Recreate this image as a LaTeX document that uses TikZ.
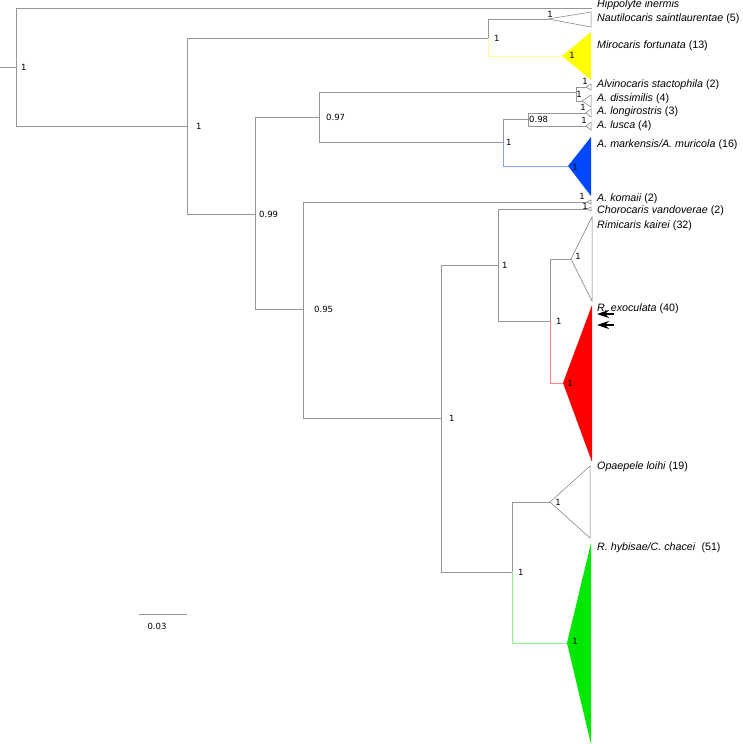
\documentclass[tikz,border=0pt]{standalone}
\usepackage{fontspec}
\usetikzlibrary{arrows.meta,positioning}
\newfontfamily\tipfont{Liberation Sans}
\newfontfamily\suppfont{DejaVu Sans}
\definecolor{branchgray}{RGB}{150,150,150}
\definecolor{cladegray}{RGB}{120,120,120}
\definecolor{miroyellow}{RGB}{255,255,0}
\definecolor{markblue}{RGB}{0,72,255}
\definecolor{exored}{RGB}{255,0,0}
\definecolor{hybgreen}{RGB}{0,232,0}

\begin{document}
\begin{tikzpicture}[
      x=1pt,y=-1pt,
      branch/.style={draw=branchgray,line width=0.8pt},
      yellowbr/.style={draw=miroyellow!40,line width=0.8pt},
      bluebr/.style={draw=markblue!50,line width=0.8pt},
      redbr/.style={draw=exored!50,line width=0.8pt},
      greenbr/.style={draw=hybgreen!45,line width=0.8pt},
      clade/.style={draw=cladegray,line width=0.5pt,fill=white},
      taxon/.style={anchor=base west,inner sep=0pt,
                    font={\tipfont\fontsize{10.7}{12}\selectfont}},
      supp/.style={inner sep=0pt,font={\suppfont\fontsize{8.5}{10}\selectfont}},
      pointer/.style={-{Stealth[length=12pt,width=8pt,inset=4pt]},line width=1.8pt}
    ]
      \fill[white] (0,0) rectangle (742,744);
      \useasboundingbox (0,0) rectangle (742,744);

      \coordinate (stem) at (0,67);
      \coordinate (root) at (16,67);
      \coordinate (n1) at (187,126);
      \coordinate (n2) at (488,38);
      \coordinate (n3) at (255,214);
      \coordinate (n4) at (319,117);
      \coordinate (n5) at (576,92);
      \coordinate (n6) at (503,142);
      \coordinate (n7) at (528,119);
      \coordinate (n8) at (303,309);
      \coordinate (n9) at (441,418);
      \coordinate (n10) at (498,265);
      \coordinate (n11) at (550,321);
      \coordinate (n12) at (512,572);

      \coordinate (hipE) at (592,8);
      \coordinate (nautA) at (548,19);
      \coordinate (miroA) at (562,56);
      \coordinate (alviA) at (586,87);
      \coordinate (dissA) at (582,101);
      \coordinate (longA) at (586,113);
      \coordinate (luscA) at (586,126);
      \coordinate (markA) at (568,166);
      \coordinate (komA) at (587,202);
      \coordinate (choA) at (587,209);
      \coordinate (kaiA) at (571,259);
      \coordinate (exoA) at (563,383);
      \coordinate (opaA) at (550,502);
      \coordinate (hybA) at (567,643);

      \draw[branch] (stem) -- (root);
      \draw[branch] (root) |- (hipE);
      \draw[branch] (root) |- (n1);
      \draw[branch] (n1) |- (n2);
      \draw[branch] (n2) |- (nautA);
      \draw[yellowbr] (n2) |- (miroA);
      \draw[branch] (n1) |- (n3);
      \draw[branch] (n3) |- (n4);
      \draw[branch] (n4) |- (n5);
      \draw[branch] (n5) |- (alviA);
      \draw[branch] (n5) |- (dissA);
      \draw[branch] (n4) |- (n6);
      \draw[branch] (n6) |- (n7);
      \draw[branch] (n7) |- (longA);
      \draw[branch] (n7) |- (luscA);
      \draw[bluebr] (n6) |- (markA);
      \draw[branch] (n3) |- (n8);
      \draw[branch] (n8) |- (komA);
      \draw[branch] (n8) |- (n9);
      \draw[branch] (n9) |- (n10);
      \draw[branch] (n10) |- (choA);
      \draw[branch] (n10) |- (n11);
      \draw[branch] (n11) |- (kaiA);
      \draw[redbr] (n11) |- (exoA);
      \draw[branch] (n9) |- (n12);
      \draw[branch] (n12) |- (opaA);
      \draw[greenbr] (n12) |- (hybA);

      \draw[clade] (nautA) -- (591,12) -- (591,27) -- cycle;
      \fill[miroyellow] (miroA) -- (591,32) -- (591,80) -- cycle;
      \draw[clade] (alviA) -- (591,84) -- (591,90) -- cycle;
      \draw[clade] (dissA) -- (591,95) -- (591,107) -- cycle;
      \draw[clade] (longA) -- (591,109) -- (591,117) -- cycle;
      \draw[clade] (luscA) -- (591,122) -- (591,130) -- cycle;
      \fill[markblue] (markA) -- (591,137) -- (591,196) -- cycle;
      \draw[clade] (komA) -- (591,200) -- (591,204) -- cycle;
      \draw[clade] (choA) -- (591,207) -- (591,211) -- cycle;
      \draw[clade] (kaiA) -- (592,217) -- (592,301) -- cycle;
      \fill[exored] (exoA) -- (592,305) -- (592,462) -- cycle;
      \draw[clade] (opaA) -- (590,466) -- (590,538) -- cycle;
      \fill[hybgreen] (hybA) -- (591,543) -- (591,744) -- cycle;

      \node[supp,right=5pt of root] (sroot) {1};
      \node[supp,right=9pt of n1] (sn1) {1};
      \node[supp,right=6pt of n2] (sn2) {1};
      \node[supp,right=4pt of n3] (sn3) {0.99};
      \node[supp,right=7pt of n4] (sn4) {0.97};
      \node[supp,right=3pt of n6] (sn6) {1};
      \node[supp,right=1pt of n7] (sn7) {0.98};
      \node[supp,right=11pt of n8] (sn8) {0.95};
      \node[supp,right=8pt of n9] (sn9) {1};
      \node[supp,right=4pt of n10] (sn10) {1};
      \node[supp,right=6pt of n11] (sn11) {1};
      \node[supp,right=6pt of n12] (sn12) {1};

      \node[supp] (snaut) at (550,14) {1};
      \node[supp] (smiro) at (572,55) {1};
      \node[supp] (salvi) at (585,81) {1};
      \node[supp] (sn5) at (579,94) {1};
      \node[supp] (slong) at (583,107) {1};
      \node[supp] (slusc) at (584,120) {1};
      \node[supp] (smark) at (575,167) {1};
      \node[supp] (skom) at (582,196) {1};
      \node[supp] (scho) at (585,206) {1};
      \node[supp] (skai) at (578,256) {1};
      \node[supp] (sexo) at (570,383) {1};
      \node[supp] (sopa) at (558,502) {1};
      \node[supp] (shyb) at (575,641) {1};

      \node[taxon] (hip) at (597,7) {\textit{Hippolyte inermis}};
      \node[taxon] (naut) at (597,21) {\textit{Nautilocaris saintlaurentae} (5)};
      \node[taxon] (miro) at (597,48) {\textit{Mirocaris fortunata} (13)};
      \node[taxon] (alvi) at (597,87) {\textit{Alvinocaris stactophila} (2)};
      \node[taxon] (diss) at (597,101) {\textit{A. dissimilis} (4)};
      \node[taxon] (long) at (597,114) {\textit{A. longirostris} (3)};
      \node[taxon] (lusc) at (597,128) {\textit{A. lusca} (4)};
      \node[taxon] (mark) at (597,147) {\textit{A. markensis/A. muricola} (16)};
      \node[taxon] (kom) at (597,201) {\textit{A. komaii} (2)};
      \node[taxon] (cho) at (597,213) {\textit{Chorocaris vandoverae} (2)};
      \node[taxon] (kai) at (597,228) {\textit{Rimicaris kairei} (32)};
      \node[taxon] (exo) at (597,311) {\textit{R. exoculata} (40)};
      \node[taxon] (opa) at (597,469) {\textit{Opaepele loihi} (19)};
      \node[taxon] (hyb) at (597,550) {\textit{R. hybisae/C. chacei}~ (51)};

      \coordinate (p1s) at (614,314);
      \coordinate (p1e) at (597,314);
      \coordinate (p2s) at (614,325);
      \coordinate (p2e) at (597,325);
      \draw[pointer] (p1s) -- (p1e);
      \draw[pointer] (p2s) -- (p2e);

      \coordinate (sbL) at (139,614);
      \coordinate (sbR) at (187,614);
      \draw[branch] (sbL) -- (sbR);
      \node[supp] (sblab) at (157,626) {0.03};
    \end{tikzpicture}
\end{document}
